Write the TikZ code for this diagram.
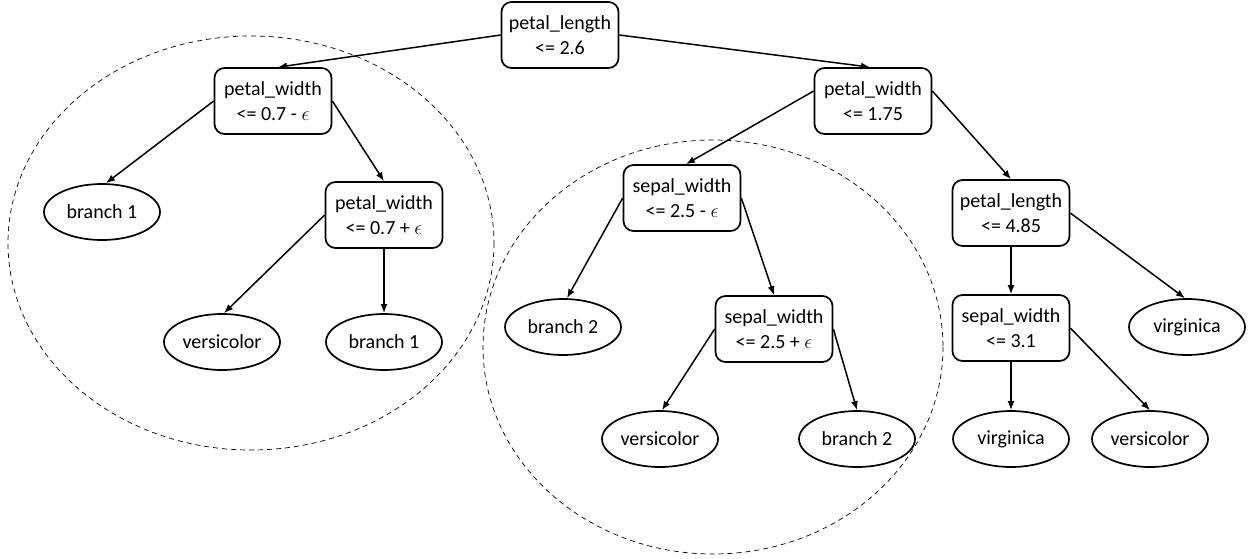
\RequirePackage{fix-cm}
\documentclass[tikz,border=0pt]{standalone}
\usepackage{fontspec}
\setmainfont{Carlito}
\usetikzlibrary{shapes.geometric,arrows.meta}
\newcommand{\eps}{\ensuremath{\epsilon}}
\begin{document}
\begin{tikzpicture}[x=1pt,y=-1pt,
  every node/.style={font=\fontsize{20}{25}\selectfont},
  cond/.style={draw,rectangle,rounded corners=10pt,line width=1.7pt,minimum width=117pt,minimum height=66pt,align=center,inner sep=2pt},
  leaf/.style={draw,ellipse,line width=1.7pt,minimum width=116pt,minimum height=56pt,inner sep=0pt},
  edge/.style={line width=1.5pt,-{Latex[length=9pt,width=7pt]}},
  group/.style={draw,line width=0.7pt,dash pattern=on 5pt off 4pt}]
\useasboundingbox (0,0) rectangle (1253,558);
\fill[white] (0,0) rectangle (1253,558);
% dashed groupings
\draw[group] (251,243) ellipse [x radius=243, y radius=207];
\draw[group] (713,347) ellipse [x radius=230, y radius=207];
% nodes
\node[cond] (root) at (560,35) {petal\_length\\<= 2.6};
\node[cond] (pwa) at (273,101) {petal\_width\\<= 0.7 - \eps};
\node[cond] (pwb) at (873,101) {petal\_width\\<= 1.75};
\node[leaf] (bra) at (102,212) {branch 1};
\node[cond] (pwc) at (384,215) {petal\_width\\<= 0.7 + \eps};
\node[leaf] (vea) at (222,342) {versicolor};
\node[leaf] (brb) at (384,342) {branch 1};
\node[cond] (swa) at (682,198) {sepal\_width\\<= 2.5 - \eps};
\node[leaf] (brc) at (563,327) {branch 2};
\node[cond] (swb) at (774,329) {sepal\_width\\<= 2.5 + \eps};
\node[leaf] (veb) at (660,439) {versicolor};
\node[leaf] (brd) at (857,439) {branch 2};
\node[cond] (pla) at (1011,213) {petal\_length\\<= 4.85};
\node[leaf] (via) at (1187,327) {virginica};
\node[cond] (swc) at (1011,328) {sepal\_width\\<= 3.1};
\node[leaf] (vib) at (1011,439) {virginica};
\node[leaf] (vec) at (1150,439) {versicolor};
% edges
\draw[edge] (root.west) -- ([xshift=5pt]pwa.north);
\draw[edge] (root.east) -- ([xshift=-3pt]pwb.north);
\draw[edge] (pwa.west) -- ([xshift=4pt]bra.north);
\draw[edge] (pwa.east) -- (pwc.north);
\draw[edge] (pwc.west) -- ([xshift=2pt]vea.north);
\draw[edge] (pwc.south) -- (brb.north);
\draw[edge] ([yshift=10pt]pwb.west) -- ([xshift=4pt]swa.north);
\draw[edge] ([yshift=10pt]pwb.east) -- (pla.north);
\draw[edge] (swa.west) -- ([xshift=4pt]brc.north);
\draw[edge] (swa.east) -- (swb.north);
\draw[edge] (swb.west) -- ([xshift=2pt]veb.north);
\draw[edge] (swb.east) -- (brd.north);
\draw[edge] (pla.east) -- ([xshift=-2pt]via.north);
\draw[edge] (pla.south) -- (swc.north);
\draw[edge] (swc.south) -- (vib.north);
\draw[edge] (swc.east) -- (vec.north);
\end{tikzpicture}
\end{document}
